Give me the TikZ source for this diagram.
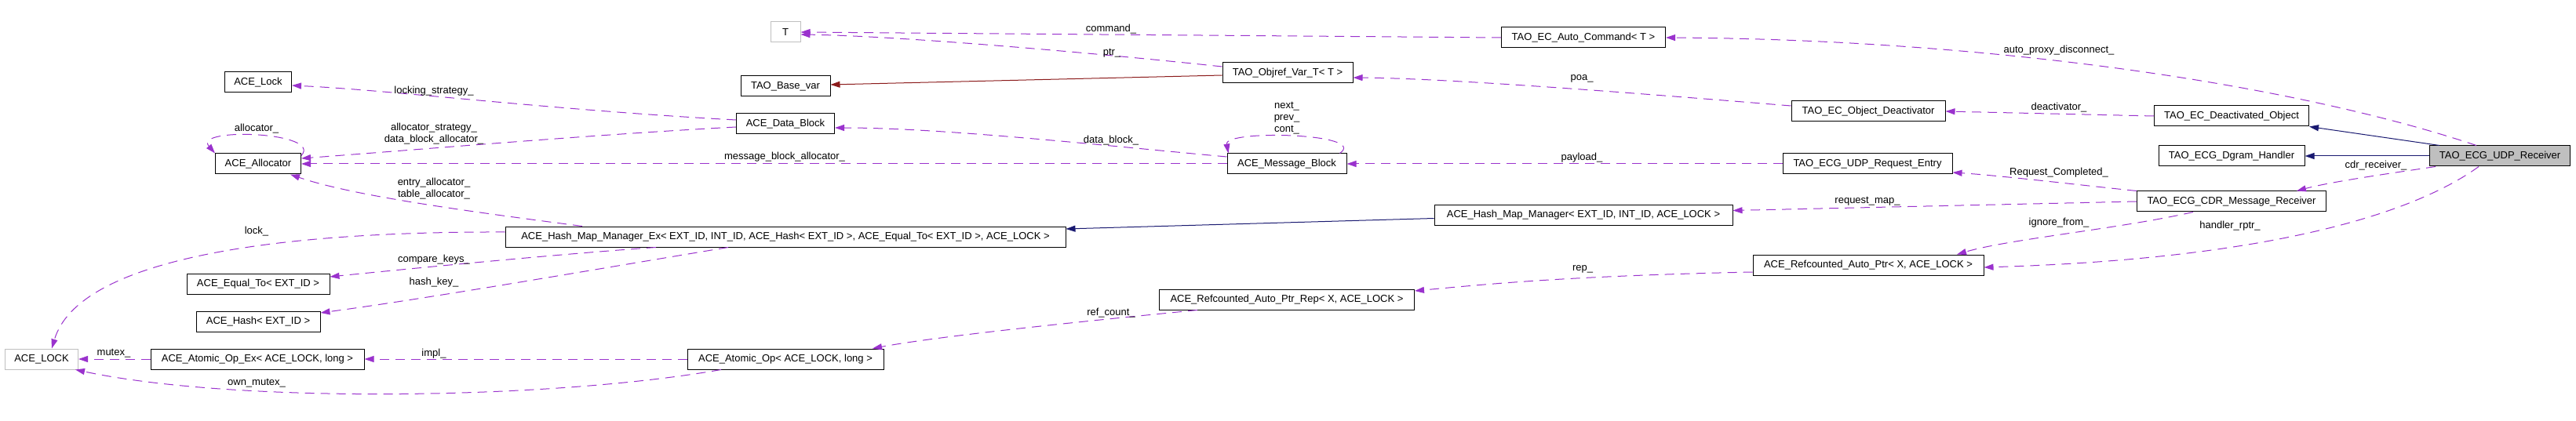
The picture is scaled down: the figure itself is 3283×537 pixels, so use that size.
\documentclass[tikz,border=0pt]{standalone}
\usepackage{fontspec}
\setmainfont{Liberation Sans}
\usetikzlibrary{arrows.meta}
\definecolor{useStroke}{HTML}{9A32CD}
\definecolor{inhStroke}{HTML}{191970}
\definecolor{tplStroke}{HTML}{8B1A1A}
\definecolor{undocStroke}{HTML}{BFBFBF}
\definecolor{rootFill}{HTML}{BFBFBF}

\begin{document}
\begin{tikzpicture}[
  x=1pt, y=-1pt,
  font=\fontsize{13}{15}\selectfont,
  cls/.style   ={draw=black, line width=1pt, fill=white, minimum height=26pt, inner xsep=0pt, inner ysep=0pt},
  undoc/.style ={cls, draw=undocStroke},
  root/.style  ={cls, fill=rootFill},
  dep/.style   ={draw=useStroke, line width=1pt, dash pattern=on 12pt off 8pt, -{Triangle[length=12pt, width=8pt]}},
  inh/.style   ={draw=inhStroke, line width=1pt, -{Triangle[length=12pt, width=8pt]}},
  tpl/.style   ={draw=tplStroke, line width=1pt, -{Triangle[length=12pt, width=8pt]}},
  lbl/.style   ={inner sep=0pt, align=center, font=\fontsize{13}{15}\selectfont},
]
\useasboundingbox (0,0) rectangle (3283,537);

% ==================== classes, left part ====================
\node[cls, minimum width=85pt]  (lock)  at (329,105) {ACE\_Lock};
\node[cls, minimum width=109pt] (alloc) at (329,209) {ACE\_Allocator};
\node[undoc, minimum width=93pt] (LOCK) at (53,458) {ACE\_LOCK};
\node[cls, minimum width=182pt] (equal) at (329,362) {ACE\_Equal\_To< EXT\_ID >};
\node[cls, minimum width=158pt] (hash)  at (329,410) {ACE\_Hash< EXT\_ID >};
\node[cls, minimum width=272pt] (opex)  at (328,458) {ACE\_Atomic\_Op\_Ex< ACE\_LOCK, long >};

% ==================== classes, middle part ====================
\node[undoc, minimum width=38pt] (T)   at (1001,41)  {T};
\node[cls, minimum width=114pt] (basevar)   at (1001,110) {TAO\_Base\_var};
\node[cls, minimum width=125pt] (datablock) at (1001,158) {ACE\_Data\_Block};
\node[cls, minimum width=714pt] (hmmex)     at (1001,302) {ACE\_Hash\_Map\_Manager\_Ex< EXT\_ID, INT\_ID, ACE\_Hash< EXT\_ID >, ACE\_Equal\_To< EXT\_ID >, ACE\_LOCK >};
\node[cls, minimum width=250pt] (atomicop)  at (1001,458) {ACE\_Atomic\_Op< ACE\_LOCK, long >};
\node[cls, minimum width=166pt] (objref)    at (1641,93)  {TAO\_Objref\_Var\_T< T >};
\node[cls, minimum width=152pt] (msgblock)  at (1640,209) {ACE\_Message\_Block};
\node[cls, minimum width=325pt] (rep)       at (1640,382) {ACE\_Refcounted\_Auto\_Ptr\_Rep< X, ACE\_LOCK >};

% ==================== classes, right part ====================
\node[cls, minimum width=209pt] (autocmd)     at (2018,48)  {TAO\_EC\_Auto\_Command< T >};
\node[cls, minimum width=380pt] (hmm)         at (2018,274.5) {ACE\_Hash\_Map\_Manager< EXT\_ID, INT\_ID, ACE\_LOCK >};
\node[cls, minimum width=196pt] (deactivator) at (2381,142) {TAO\_EC\_Object\_Deactivator};
\node[cls, minimum width=216pt] (entry)       at (2380,209) {TAO\_ECG\_UDP\_Request\_Entry};
\node[cls, minimum width=294pt] (autoptr)     at (2381,338) {ACE\_Refcounted\_Auto\_Ptr< X, ACE\_LOCK >};
\node[cls, minimum width=197pt] (deactobj)    at (2844,148) {TAO\_EC\_Deactivated\_Object};
\node[cls, minimum width=186pt] (dgram)       at (2844,199) {TAO\_ECG\_Dgram\_Handler};
\node[cls, minimum width=241pt] (cdr)         at (2844,257) {TAO\_ECG\_CDR\_Message\_Receiver};
\node[root, minimum width=179pt] (recv)       at (3186,199) {TAO\_ECG\_UDP\_Receiver};

% ==================== edges of the receiver ====================
\draw[dep] ([xshift=-30pt]recv.north) .. controls (2900,100) and (2500,50) .. (autocmd.east);
\draw[inh] ([xshift=-77pt]recv.north) -- (deactobj.south east);
\draw[inh] (recv.west) -- (dgram.east);
\draw[dep] ([xshift=-82pt]recv.south) .. controls (3040,222) and (2970,232) .. ([xshift=83pt]cdr.north);
\draw[dep] ([xshift=-27pt]recv.south) .. controls (3080,270) and (2900,330) .. ([yshift=-3pt]autoptr.east);
\node[lbl] (lapd) at (2624,64)  {auto\_proxy\_disconnect\_};
\node[lbl] (lcdr) at (3028,211) {cdr\_receiver\_};
\node[lbl] (lhrp) at (2842,288) {handler\_rptr\_};

% ==================== right part ====================
\draw[dep] (deactobj.west) -- (deactivator.east);
\draw[dep] ([yshift=7pt]deactivator.west) .. controls (2100,120) and (1850,100) .. ([yshift=-6pt]objref.east);
\draw[dep] (cdr.north west) .. controls (2650,236) and (2550,224) .. ([yshift=-11pt]entry.east);
\draw[dep] (cdr.west) -- ([yshift=6pt]hmm.east);
\draw[dep] ([xshift=-49pt]cdr.south) .. controls (2700,292) and (2560,305) .. ([xshift=113pt]autoptr.north);
\draw[dep] (entry.west) -- (msgblock.east);
\draw[inh] ([yshift=-4pt]hmm.west) -- ([yshift=10pt]hmmex.east);
\draw[dep] ([yshift=-9pt]autoptr.west) .. controls (2000,352) and (1900,362) .. ([yshift=11pt]rep.east);
\node[lbl] (ldea) at (2624,137) {deactivator\_};
\node[lbl] (lpoa) at (2016,100) {poa\_};
\node[lbl] (lreq) at (2624,220) {Request\_Completed\_};
\node[lbl] (lmap) at (2380,257) {request\_map\_};
\node[lbl] (lign) at (2624,284) {ignore\_from\_};
\node[lbl] (lpay) at (2016,201) {payload\_};
\node[lbl] (lrep) at (2017,343) {rep\_};

% ==================== middle part ====================
\draw[dep] (autocmd.west) -- (T.east);
\draw[dep] ([yshift=8pt]objref.west) .. controls (1400,68) and (1150,46) .. ([yshift=-3pt]T.east);
\draw[tpl] ([yshift=-3pt]objref.west) -- ([yshift=2pt]basevar.east);
\draw[dep] ([xshift=-114pt]rep.south) .. controls (1400,408) and (1200,428) .. ([xshift=111pt]atomicop.north);
\draw[dep] ([yshift=9pt]msgblock.west) .. controls (1400,185) and (1200,163) .. ([yshift=-5pt]datablock.east);
\draw[dep] ([xshift=-9pt]msgblock.north east) .. controls (1745,170) and (1560,165) .. ([xshift=2pt]msgblock.north west);
\node[lbl] (lcmd) at (1416,37)  {command\_};
\node[lbl] (lptr) at (1417,68)  {ptr\_};
\node[lbl] (lref) at (1416,399) {ref\_count\_};
\node[lbl] (ldbk) at (1416,179) {data\_block\_};
\node[lbl] (lnxt) at (1640,151) {next\_\\prev\_\\cont\_};

% ==================== left part ====================
\draw[dep] (atomicop.west) -- (opex.east);
\draw[dep] ([xshift=-82pt]atomicop.south) .. controls (700,510) and (300,515) .. ([xshift=-4pt]LOCK.south east);
\draw[dep] (opex.west) -- (LOCK.east);
\draw[dep] ([yshift=6pt]hmmex.west) .. controls (350,295) and (100,330) .. ([xshift=13pt]LOCK.north);
\draw[dep] ([xshift=-165pt]hmmex.south) .. controls (700,325) and (500,345) .. ([yshift=9pt]equal.east);
\draw[dep] ([xshift=-73pt]hmmex.south) .. controls (750,345) and (550,380) .. ([yshift=11pt]hash.east);
\draw[dep] ([xshift=-259pt]hmmex.north) .. controls (600,270) and (450,250) .. ([xshift=-14pt]alloc.south east);
\draw[dep] ([yshift=5pt]datablock.west) .. controls (700,140) and (500,115) .. ([yshift=-4pt]lock.east);
\draw[dep] ([yshift=-4pt]datablock.west) .. controls (750,172) and (520,192) .. ([yshift=7pt]alloc.east);
\draw[dep] (msgblock.west) -- (alloc.east);
\draw[dep] ([yshift=-3pt]alloc.north east) .. controls (412,168) and (245,162) .. (alloc.north west);
\node[lbl] (limp) at (553,451)  {impl\_};
\node[lbl] (lown) at (327,489)  {own\_mutex\_};
\node[lbl] (lmtx) at (145,451)  {mutex\_};
\node[lbl] (llck) at (327,295)  {lock\_};
\node[lbl] (lcmp) at (553,331)  {compare\_keys\_};
\node[lbl] (lhsh) at (553,360)  {hash\_key\_};
\node[lbl] (lent) at (553,241)  {entry\_allocator\_\\table\_allocator\_};
\node[lbl] (llks) at (553,116)  {locking\_strategy\_};
\node[lbl] (lals) at (553,171)  {allocator\_strategy\_\\data\_block\_allocator\_};
\node[lbl] (lmba) at (1000,200) {message\_block\_allocator\_};
\node[lbl] (lall) at (327,164)  {allocator\_};

\end{tikzpicture}
\end{document}
